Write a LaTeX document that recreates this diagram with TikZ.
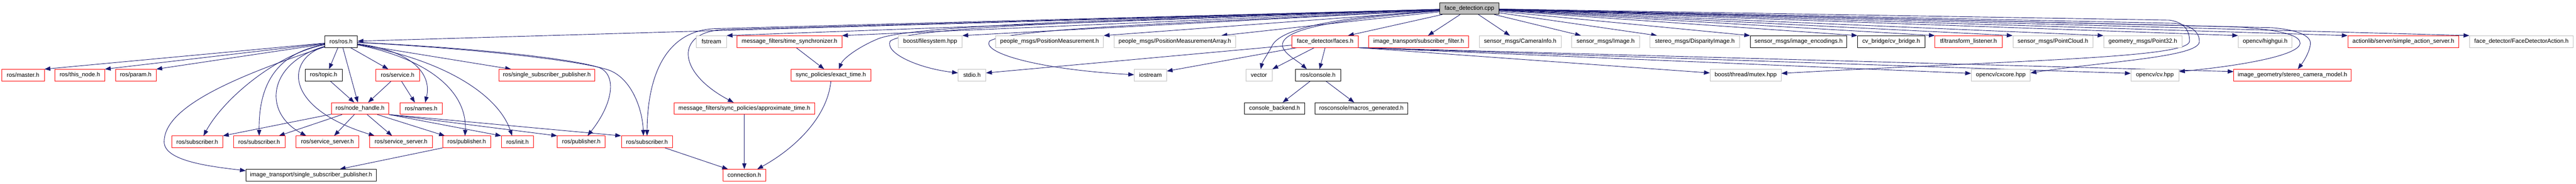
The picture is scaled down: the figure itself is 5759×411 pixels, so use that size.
\documentclass[tikz,border=0pt]{standalone}
\usepackage{fontspec}
\setmainfont{Liberation Sans}
\usetikzlibrary{arrows.meta}
\definecolor{edgec}{HTML}{191970}
\definecolor{redc}{HTML}{FF0000}
\definecolor{grayc}{HTML}{BFBFBF}
\newcommand{\dgfont}{\fontsize{13.2pt}{15pt}\selectfont}
\pgfdeclarelayer{bgl}
\pgfdeclarelayer{edgel}
\pgfsetlayers{bgl,edgel,main}
\tikzset{
 nb/.style={draw, fill=white, line width=1pt, minimum height=26pt, inner sep=0pt, font=\dgfont, text=black},
 rd/.style={nb, draw=redc},
 gr/.style={nb, draw=grayc},
 bk/.style={nb, draw=black},
 edg/.style={draw=edgec, line width=1.05pt, -{Triangle[length=13pt,width=9.5pt]}},
}
\begin{document}
\begin{tikzpicture}[x=1pt,y=-1pt]
\useasboundingbox (0,0) rectangle (5759,411);
\begin{pgfonlayer}{bgl}
\fill[white] (0,0) rectangle (5759,411);
\end{pgfonlayer}
% row 1
\node[bk, fill=grayc, minimum width=132pt] (fd) at (3285,19) {face\_detection.cpp};
% row 2
\node[bk, minimum width=73pt] (ros) at (762.5,93) {ros/ros.h};
\node[gr, minimum width=67pt] (fstream) at (1590.5,93) {fstream};
\node[rd, minimum width=234pt] (timesync) at (1765,93) {message\_filters/time\_synchronizer.h};
\node[gr, minimum width=143pt] (filesystem) at (2079.5,93) {boost/filesystem.hpp};
\node[gr, minimum width=241pt] (posmeas) at (2346.5,93) {people\_msgs/PositionMeasurement.h};
\node[gr, minimum width=271pt] (posmeasarr) at (2626.5,93) {people\_msgs/PositionMeasurementArray.h};
\node[rd, minimum width=149pt] (faces) at (2962.5,93) {face\_detector/faces.h};
\node[rd, minimum width=223pt] (subfilter) at (3171.5,93) {image\_transport/subscriber\_filter.h};
\node[gr, minimum width=183pt] (caminfo) at (3398.5,93) {sensor\_msgs/CameraInfo.h};
\node[gr, minimum width=151pt] (image) at (3589.5,93) {sensor\_msgs/Image.h};
\node[gr, minimum width=200pt] (disparity) at (3789,93) {stereo\_msgs/DisparityImage.h};
\node[bk, minimum width=216pt] (encodings) at (4021,93) {sensor\_msgs/image\_encodings.h};
\node[bk, minimum width=150pt] (cvbridge) at (4228,93) {cv\_bridge/cv\_bridge.h};
\node[rd, minimum width=150pt] (tflistener) at (4401,93) {tf/transform\_listener.h};
\node[gr, minimum width=179pt] (pointcloud) at (4589.5,93) {sensor\_msgs/PointCloud.h};
\node[gr, minimum width=175pt] (point32) at (4790.5,93) {geometry\_msgs/Point32.h};
\node[gr, minimum width=120pt] (highgui) at (5064,93) {opencv/highgui.h};
\node[rd, minimum width=248pt] (actionserver) at (5373,93) {actionlib/server/simple\_action\_server.h};
\node[gr, minimum width=232pt] (fdaction) at (5637,93) {face\_detector/FaceDetectorAction.h};
% row 3
\node[rd, minimum width=95pt] (master) at (51.5,168) {ros/master.h};
\node[rd, minimum width=111pt] (thisnode) at (178.5,168) {ros/this\_node.h};
\node[rd, minimum width=91pt] (param) at (303.5,168) {ros/param.h};
\node[bk, minimum width=83pt] (topic) at (723.5,168) {ros/topic.h};
\node[rd, minimum width=98pt] (service) at (889,168) {ros/service.h};
\node[rd, minimum width=215pt] (ssp) at (1222.5,168) {ros/single\_subscriber\_publisher.h};
\node[rd, minimum width=179pt] (exact) at (1857.5,168) {sync\_policies/exact\_time.h};
\node[gr, minimum width=62pt] (stdio) at (2173,168) {stdio.h};
\node[gr, minimum width=72pt] (iostream) at (2572,168) {iostream};
\node[gr, minimum width=59pt] (vector) at (2814.5,168) {vector};
\node[bk, minimum width=101pt] (console) at (2946.5,168) {ros/console.h};
\node[gr, minimum width=159pt] (mutex) at (3902.5,168) {boost/thread/mutex.hpp};
\node[gr, minimum width=132pt] (cxcore) at (4473,168) {opencv/cxcore.hpp};
\node[gr, minimum width=107pt] (cvhpp) at (4817.5,168) {opencv/cv.hpp};
\node[rd, minimum width=262pt] (stereo) at (5125,168) {image\_geometry/stereo\_camera\_model.h};
% row 4
\node[rd, minimum width=128pt] (nodehandle) at (805,242.5) {ros/node\_handle.h};
\node[rd, minimum width=95pt] (names) at (941.5,242.5) {ros/names.h};
\node[rd, minimum width=314pt] (approx) at (1664,242.5) {message\_filters/sync\_policies/approximate\_time.h};
\node[bk, minimum width=135pt] (backend) at (2849.5,242.5) {console\_backend.h};
\node[bk, minimum width=207pt] (macros) at (3043.5,242.5) {rosconsole/macros\_generated.h};
% row 5
\node[rd, minimum width=114pt] (sub1) at (441,317) {ros/subscriber.h};
\node[rd, minimum width=115pt] (sub2) at (579.5,317) {ros/subscriber.h};
\node[rd, minimum width=140pt] (ss1) at (732,317) {ros/service\_server.h};
\node[rd, minimum width=141pt] (ss2) at (896.5,317) {ros/service\_server.h};
\node[rd, minimum width=107pt] (pub1) at (1043.5,317) {ros/publisher.h};
\node[rd, minimum width=72pt] (init) at (1157,317) {ros/init.h};
\node[rd, minimum width=107pt] (pub2) at (1299.5,317) {ros/publisher.h};
\node[rd, minimum width=115pt] (sub3) at (1446.5,317) {ros/subscriber.h};
% row 6
\node[bk, minimum width=291pt] (itssp) at (695.5,391.5) {image\_transport/single\_subscriber\_publisher.h};
\node[rd, minimum width=96pt] (connection) at (1664,391.5) {connection.h};

\begin{pgfonlayer}{edgel}
% from face_detection.cpp
\draw[edg] (fd) -- (ros);
\draw[edg] (fd) -- (fstream.north east);
\draw[edg] (fd) -- (timesync.north east);
\draw[edg] (fd) -- (filesystem.north east);
\draw[edg] (fd) -- (posmeas.north east);
\draw[edg] (fd) -- ([xshift=-32pt]posmeasarr.north east);
\draw[edg] (fd) -- ([xshift=-24pt]faces.north east);
\draw[edg] (fd) -- ([xshift=21pt]subfilter.north);
\draw[edg] (fd) -- ([xshift=-23pt]caminfo.north);
\draw[edg] (fd) -- ([xshift=-55pt]image.north);
\draw[edg] (fd) -- ([xshift=16pt]disparity.north west);
\draw[edg] (fd) -- (encodings.north west);
\draw[edg] (fd) -- (cvbridge.north west);
\draw[edg] (fd) -- (tflistener.north west);
\draw[edg] (fd) -- (pointcloud.north west);
\draw[edg] (fd) -- (point32.north west);
\draw[edg] (fd) -- (highgui.north west);
\draw[edg] (fd) -- (actionserver.north west);
\draw[edg] (fd) -- (fdaction.north west);
\draw[edg] (fd) .. controls (2400,45) and (2020,60) .. (1960,88) .. controls (1920,105) and (1885,130) .. ([xshift=18pt]exact.north);
\draw[edg] (fd) .. controls (2400,48) and (2030,62) .. (1990,92) .. controls (1978,118) and (2050,152) .. ([yshift=5pt]stdio.west);
\draw[edg] (fd) .. controls (2700,50) and (2260,62) .. (2212,92) .. controls (2195,118) and (2320,155) .. ([yshift=1pt]iostream.west);
\draw[edg] (fd) -- (1620,66) .. controls (1510,70) and (1510,160) .. ([xshift=-24pt]approx.north);
\draw[edg] (fd) -- (1600,64) .. controls (1500,67) and (1448,150) .. (sub3.north);
\draw[edg] (fd) .. controls (3000,38) and (2870,60) .. (2845,100) .. controls (2835,120) and (2822,138) .. ([xshift=4pt]vector.north);
\draw[edg] (fd) .. controls (3000,42) and (2880,62) .. (2868,95) .. controls (2860,115) and (2900,135) .. ([xshift=-25pt]console.north);
\draw[edg] (fd) -- (4850,45) .. controls (4885,50) and (4895,70) .. (4895,92) .. controls (4895,130) and (4500,135) .. ([yshift=4pt]mutex.east);
\draw[edg] (fd) -- (4860,52) .. controls (4905,57) and (4917,75) .. (4917,93) .. controls (4917,128) and (4700,138) .. ([yshift=5pt]cxcore.east);
\draw[edg] (fd) -- (5000,60) .. controls (5115,68) and (5143,82) .. (5142,97) .. controls (5140,125) and (5000,148) .. ([yshift=8pt]cvhpp.east);
\draw[edg] (fd) -- (5080,62) .. controls (5150,68) and (5168,85) .. (5165,100) .. controls (5162,120) and (5148,140) .. ([xshift=12pt]stereo.north);
% from faces.h
\draw[edg] (faces.south) -- ([xshift=3.5pt]console.north);
\draw[edg] ([xshift=-24pt]faces.south) -- (vector.north east);
\draw[edg] ([xshift=12pt]faces.south west) -- ([yshift=9pt]iostream.east);
\draw[edg] ([yshift=-8pt]faces.west) -- ([yshift=5pt]stdio.east);
\draw[edg] (faces.south east) -- ([yshift=5pt]mutex.west);
\draw[edg] (faces.south east) -- ([yshift=4pt]cxcore.west);
\draw[edg] (faces.south east) -- ([yshift=4pt]cvhpp.west);
\draw[edg] (faces.south east) -- ([yshift=8pt]stereo.west);
% from ros/console.h
\draw[edg] (console) -- ([xshift=18pt]backend.north);
\draw[edg] (console) -- ([xshift=-16pt]macros.north);
% from ros/ros.h
\draw[edg] (ros) -- (master.north east);
\draw[edg] (ros) -- (thisnode.north east);
\draw[edg] (ros) -- (param.north east);
\draw[edg] ([xshift=-7pt]ros.south) -- ([xshift=12pt]topic.north);
\draw[edg] ([xshift=4pt]ros.south) -- ([xshift=-5pt]nodehandle.north);
\draw[edg] ([xshift=-16pt]ros.south east) -- ([xshift=-21pt]service.north);
\draw[edg] (ros) .. controls (930,115) and (965,170) .. ([xshift=9pt]names.north);
\draw[edg] (ros) -- ([xshift=-80pt]ssp.north);
\draw[edg] (ros) .. controls (950,130) and (1045,200) .. ([xshift=-4pt]pub1.north);
\draw[edg] (ros) .. controls (1000,135) and (1115,215) .. ([xshift=-12pt]init.north);
\draw[edg] (ros) .. controls (1000,104) and (1250,125) .. (1337,150) .. controls (1380,165) and (1372,230) .. ([xshift=14pt]pub2.north);
\draw[edg] (ros) .. controls (1050,108) and (1300,135) .. (1362,157) .. controls (1410,175) and (1436,240) .. ([xshift=-8pt]sub3.north);
\draw[edg] (ros) .. controls (480,185) and (367,250) .. (367,317) .. controls (367,360) and (470,372) .. ([yshift=10pt]itssp.west);
\draw[edg] (ros) .. controls (620,120) and (500,220) .. ([xshift=14pt]sub1.north);
\draw[edg] (ros) .. controls (610,120) and (578,200) .. (sub2.north);
\draw[edg] (ros) .. controls (600,140) and (585,250) .. ([xshift=23pt]ss1.north west);
\draw[edg] (ros) .. controls (640,130) and (630,240) .. ([xshift=12pt]ss2.north west);
% topic, service
\draw[edg] (topic) -- ([xshift=-13pt]nodehandle.north);
\draw[edg] (service) -- ([xshift=18pt]nodehandle.north);
\draw[edg] (service) -- ([xshift=-14pt]names.north);
% node_handle
\draw[edg] (nodehandle) -- (sub1.north east);
\draw[edg] (nodehandle) -- ([xshift=-14pt]sub2.north east);
\draw[edg] (nodehandle) -- ([xshift=15pt]ss1.north);
\draw[edg] (nodehandle) -- ([xshift=-20pt]ss2.north);
\draw[edg] ([xshift=-26pt]nodehandle.south east) -- ([xshift=5pt]pub1.north west);
\draw[edg] (nodehandle.south east) -- (init.north west);
\draw[edg] (nodehandle.south east) -- (pub2.north west);
\draw[edg] (nodehandle.south east) -- (sub3.north west);
% publisher -> image_transport
\draw[edg] (pub1.south west) -- ([xshift=64pt]itssp.north);
% message filters
\draw[edg] ([xshift=15pt]timesync.south) -- ([xshift=-15pt]exact.north);
\draw[edg] (exact.south) .. controls (1850,260) and (1780,330) .. ([xshift=29pt]connection.north);
\draw[edg] (approx) -- (connection);
\draw[edg] (sub3) -- ([xshift=12pt]connection.north west);
\end{pgfonlayer}
\end{tikzpicture}
\end{document}
